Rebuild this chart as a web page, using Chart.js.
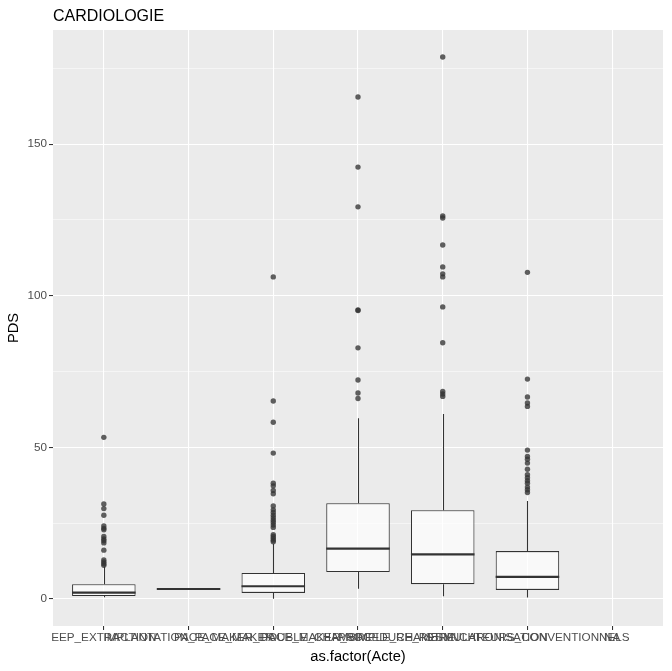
<!DOCTYPE html>
<html>
<head>
<meta charset="utf-8">
<script src="https://cdn.jsdelivr.net/npm/chart.js@4"></script>
<style>
  html, body { margin: 0; padding: 0; background: #FFFFFF; }
  #wrap { width: 672px; height: 671px; position: relative; }
</style>
</head>
<body>
<div id="wrap"><canvas id="c"></canvas></div>
<script>
// ---- data ----
const chartTitle = 'CARDIOLOGIE';
const xTitle = 'as.factor(Acte)';
const yTitle = 'PDS';
const categories = ['EEP_EXTRACTION', 'IMPLANTATION_PACE_MAKER', 'PACE_MAKER_DOUBLE_CHAMBRE', 'PACE_MAKER_SIMPLE_CHAMBRE', 'PROCEDURE_RESYNCHRONISATION', 'STIMULATEURS_CONVENTIONNELS', 'NA'];
const whiskerLow  = [0.6, 3.3, 0.1, 3.4, 0.9, 0.5, null];
const q1          = [1.0, 3.3, 2.0, 8.9, 4.9, 3.0, null];
const medians     = [2.1, 3.3, 4.2, 16.6, 14.7, 7.3, null];
const q3          = [4.9, 3.3, 8.6, 31.6, 29.3, 15.8, null];
const whiskerHigh = [10.7, 3.3, 18.2, 59.6, 61.0, 32.3, null];
const outliers1 = [53.3, 31.3, 29.8, 27.6, 24.1, 23.3, 22.8, 20.6, 19.8, 19.2, 18.5, 16.1, 12.9, 12.2, 11.6, 11.1];
const outliers2 = [];
const outliers3 = [106.2, 65.3, 58.3, 48.1, 38.2, 37.3, 35.8, 34.7, 30.7, 29.4, 28.5, 27.6, 26.8, 26.0, 25.2, 24.4, 23.6, 21.2, 20.6, 20.0, 19.4, 18.9];
const outliers4 = [165.5, 142.4, 129.3, 95.3, 95.1, 82.8, 72.2, 67.9, 66.1];
const outliers5 = [178.7, 126.3, 125.6, 116.7, 109.5, 107.2, 106.2, 96.3, 84.5, 68.4, 67.6, 66.8];
const outliers6 = [107.7, 72.5, 66.6, 64.6, 63.5, 49.1, 47.0, 46.1, 44.8, 42.8, 41.0, 40.0, 39.0, 38.2, 36.9, 36.0, 35.1];
const outliers7 = [];
const yTickStep = 25;
const yLabelStep = 50;

// ---- build library structures ----
const allOutliers = [outliers1, outliers2, outliers3, outliers4, outliers5, outliers6, outliers7];
const boxData = [];
categories.forEach((c, i) => { if (q1[i] !== null) boxData.push({ x: i + 1, y: [q1[i], q3[i]] }); });
const outlierData = [];
allOutliers.forEach((arr, i) => arr.forEach(v => outlierData.push({ x: i + 1, y: v })));

const FONT = "'Liberation Sans', Arial, sans-serif";
Chart.defaults.font.family = FONT;
const BOX_FRAC = 0.75;

const panelBg = {
  id: 'panelBg',
  beforeDraw(chart) {
    const { ctx, chartArea: a } = chart;
    ctx.save();
    ctx.fillStyle = '#EBEBEB';
    ctx.fillRect(a.left, a.top, a.right - a.left, a.bottom - a.top);
    ctx.restore();
  }
};

const titlePlugin = {
  id: 'ggTitle',
  afterDraw(chart) {
    const { ctx, chartArea: a } = chart;
    ctx.save();
    ctx.font = '16px ' + FONT;
    ctx.fillStyle = '#000000';
    ctx.textBaseline = 'alphabetic';
    ctx.textAlign = 'left';
    ctx.fillText(chartTitle, a.left, 20.7);
    ctx.restore();
  }
};

const boxParts = {
  id: 'boxParts',
  beforeDatasetsDraw(chart) {
    const { ctx, scales: { x, y } } = chart;
    ctx.save();
    ctx.strokeStyle = '#333333';
    ctx.lineWidth = 1.07;
    categories.forEach((c, i) => {
      if (q1[i] === null) return;
      const px = Math.round(x.getPixelForValue(i + 1)) + 0.5;
      ctx.beginPath();
      ctx.moveTo(px, y.getPixelForValue(whiskerHigh[i]));
      ctx.lineTo(px, y.getPixelForValue(q3[i]));
      ctx.moveTo(px, y.getPixelForValue(q1[i]));
      ctx.lineTo(px, y.getPixelForValue(whiskerLow[i]));
      ctx.stroke();
    });
    ctx.restore();
  },
  afterDatasetsDraw(chart) {
    const { ctx, scales: { x, y } } = chart;
    ctx.save();
    ctx.strokeStyle = '#333333';
    ctx.lineWidth = 2.2;
    categories.forEach((c, i) => {
      if (medians[i] === null) return;
      const cx = x.getPixelForValue(i + 1);
      const hw = x.getPixelForValue(i + 1 + BOX_FRAC / 2) - cx;
      const py = y.getPixelForValue(medians[i]);
      ctx.beginPath();
      ctx.moveTo(cx - hw, py);
      ctx.lineTo(cx + hw, py);
      ctx.stroke();
    });
    ctx.restore();
  }
};

new Chart(document.getElementById('c'), {
  type: 'bar',
  data: {
    datasets: [
      {
        type: 'bar',
        data: boxData,
        backgroundColor: 'rgba(255,255,255,0.7)',
        borderColor: '#333333',
        borderWidth: 1.07,
        borderSkipped: false,
        barPercentage: BOX_FRAC,
        categoryPercentage: 1,
        order: 2
      },
      {
        type: 'scatter',
        data: outlierData,
        pointRadius: 2.7,
        pointBackgroundColor: 'rgba(51,51,51,0.78)',
        pointBorderWidth: 0,
        pointBorderColor: 'rgba(0,0,0,0)',
        showLine: false,
        order: 1
      }
    ]
  },
  options: {
    responsive: true,
    maintainAspectRatio: false,
    animation: false,
    devicePixelRatio: 1,
    layout: { padding: { top: 30, right: 9, left: 0, bottom: 0 } },
    plugins: { legend: { display: false }, tooltip: { enabled: false }, title: { display: false } },
    scales: {
      x: {
        type: 'linear',
        min: 0.4,
        max: 7.6,
        offset: false,
        afterFit(s) { s.height = 45; },
        border: { display: false },
        grid: { color: '#FFFFFF', lineWidth: 1.07, offset: false, tickColor: '#333333', tickLength: 4, tickWidth: 1.07 },
        ticks: {
          stepSize: 1, includeBounds: false, autoSkip: false, maxRotation: 0, minRotation: 0,
          color: '#4D4D4D', font: { size: 11.7 }, padding: 1,
          callback: (v) => categories[Math.round(v) - 1]
        },
        title: { display: true, text: xTitle, color: '#000000', font: { size: 14.7 }, padding: { top: 0, bottom: 5 } }
      },
      y: {
        type: 'linear',
        min: -8.9,
        max: 187.6,
        afterFit(s) { s.width = 53; },
        border: { display: false },
        grid: {
          color: '#FFFFFF',
          lineWidth: (ctx) => (ctx.tick && ctx.tick.value % yLabelStep === 0) ? 1.07 : 0.53,
          tickColor: (ctx) => (ctx.tick && ctx.tick.value % yLabelStep === 0) ? '#333333' : 'rgba(0,0,0,0)',
          tickWidth: 1.07,
          tickLength: 4
        },
        ticks: {
          stepSize: yTickStep, includeBounds: false, autoSkip: false,
          color: '#4D4D4D', font: { size: 11.7 }, padding: 2,
          callback: (v) => (v % yLabelStep === 0) ? String(v) : ''
        },
        title: { display: true, text: yTitle, color: '#000000', font: { size: 14.7 }, padding: { top: 5, bottom: 0 } }
      }
    }
  },
  plugins: [panelBg, boxParts, titlePlugin]
});
</script>
</body>
</html>
